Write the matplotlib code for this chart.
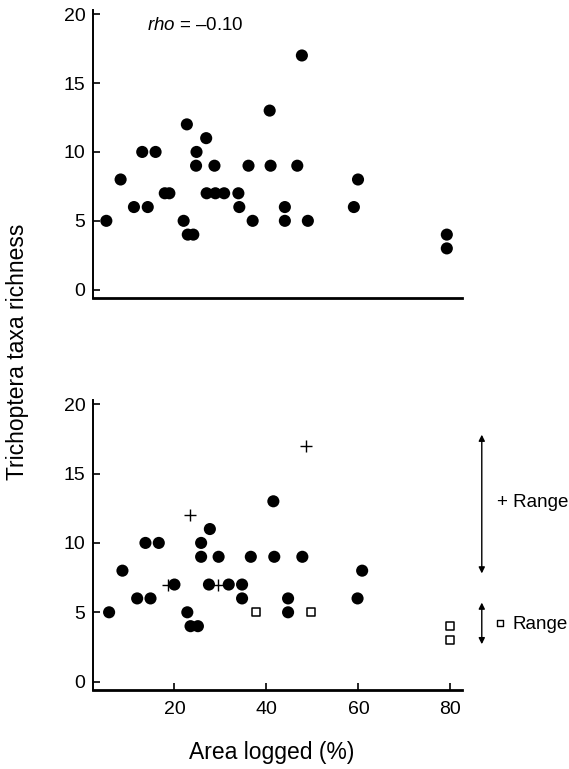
import matplotlib
matplotlib.use("Agg")
import matplotlib.pyplot as plt

plt.rcParams["font.family"] = ["Liberation Sans", "DejaVu Sans"]
plt.rcParams["mathtext.fontset"] = "custom"
plt.rcParams["mathtext.rm"] = "Liberation Sans"
plt.rcParams["mathtext.it"] = "Liberation Sans:italic"

# Upper panel: all sites
top_x = [5.2, 8.3, 11.2, 13.0, 14.2, 15.9, 17.9, 18.9, 22.0, 22.7, 22.9, 24.1,
         24.8, 24.7, 26.9, 27.0, 28.7, 28.9, 30.8, 33.9, 34.1, 36.1, 37.0, 40.7,
         40.9, 44.0, 44.0, 46.7, 47.7, 49.0, 59.0, 59.9, 79.2, 79.2]
top_y = [5, 8, 6, 10, 6, 10, 7, 7, 5, 12, 4, 4,
         10, 9, 11, 7, 9, 7, 7, 7, 6, 9, 5, 13,
         9, 6, 5, 9, 17, 5, 6, 8, 4, 3]

# Lower panel: sites split by group
circ_x = [5.8, 8.7, 11.9, 13.7, 14.8, 16.6, 20.0, 22.8, 23.5, 25.1, 25.8, 25.8,
          27.7, 27.5, 29.6, 31.8, 34.7, 34.7, 36.6, 41.5, 41.7, 44.7, 44.7, 47.8,
          59.8, 60.8]
circ_y = [5, 8, 6, 10, 6, 10, 7, 5, 4, 4, 10, 9,
          11, 7, 9, 7, 7, 6, 9, 13, 9, 6, 5, 9,
          6, 8]
plus_x = [18.6, 23.3, 29.4, 48.5]
plus_y = [7, 12, 7, 17]
sq_x = [37.7, 49.7, 79.9, 79.9]
sq_y = [5, 5, 4, 3]

rho_text = r"$\mathit{rho}$ = " + "\u20130.10"
plus_range = (7.8, 17.8)
sq_range = (2.7, 5.7)

xticks = [20, 40, 60, 80]
yticks = [0, 5, 10, 15, 20]

fig = plt.figure(figsize=(5.69, 7.69), dpi=100)
W, H = 569, 769
L, R = 93 / W, 462 / W
ax1 = fig.add_axes([L, 1 - 298 / H, R - L, 288 / H])
ax2 = fig.add_axes([L, 1 - 690 / H, R - L, 290 / H])

for ax in (ax1, ax2):
    ax.set_xlim(2.3, 82.5)
    ax.set_ylim(-0.6, 20.3)
    for s in ("top", "right"):
        ax.spines[s].set_visible(False)
    ax.spines["left"].set_linewidth(1.4)
    ax.spines["bottom"].set_linewidth(2.0)
    ax.set_yticks(yticks)
    ax.tick_params(axis="both", direction="in", length=5, width=1.2,
                   labelsize=14, pad=5.5)

ax1.set_xticks([])
ax1.scatter(top_x, top_y, s=76, color="black", edgecolors="none", zorder=3)
ax1.text(14.0, 19.2, rho_text, fontsize=13.5, ha="left", va="center")

ax2.set_xticks(xticks)
ax2.tick_params(axis="x", pad=8)
ax2.scatter(circ_x, circ_y, s=76, color="black", edgecolors="none", zorder=3)
ax2.scatter(plus_x, plus_y, s=80, marker="+", color="black", linewidths=1.0, zorder=3)
ax2.scatter(sq_x, sq_y, s=38, marker="s", facecolors="white", edgecolors="black",
            linewidths=1.1, zorder=3)

arrow_x = 86.8
for lo, hi in (plus_range, sq_range):
    ax2.annotate("", xy=(arrow_x, hi), xytext=(arrow_x, lo), annotation_clip=False,
                 arrowprops=dict(arrowstyle="<|-|>", color="black", lw=1.0,
                                 mutation_scale=9, shrinkA=0, shrinkB=0))
ax2.text(90.2, 12.9, "+ Range", fontsize=13.5, ha="left", va="center", clip_on=False)
ax2.scatter([90.7], [4.2], s=22, marker="s", facecolors="white", edgecolors="black",
            linewidths=1.0, clip_on=False)
ax2.text(93.4, 4.1, "Range", fontsize=13.5, ha="left", va="center", clip_on=False)

fig.text(272 / W, 1 - 752 / H, "Area logged (%)", fontsize=16.5, ha="center", va="center")
fig.text(18 / W, 1 - 352 / H, "Trichoptera taxa richness", fontsize=16.5,
         rotation=90, ha="center", va="center")

fig.savefig("out.png", dpi=100)
